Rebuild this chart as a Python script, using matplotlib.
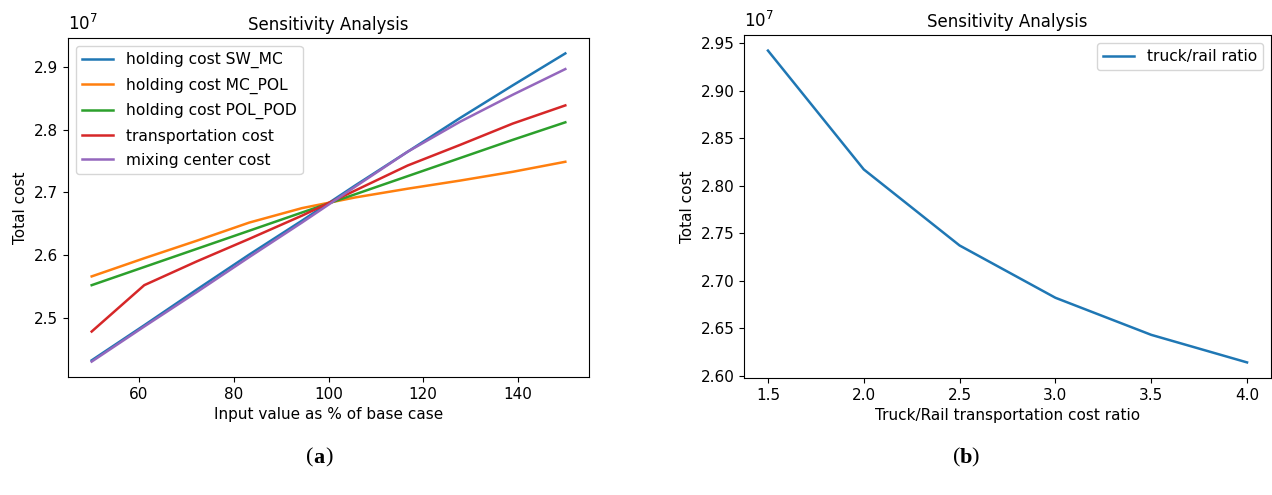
import matplotlib
matplotlib.use("Agg")
import matplotlib.pyplot as plt

# left panel: input value as % of base case
pct = [50, 61.1, 72.2, 83.3, 94.4, 105.6, 116.7, 127.8, 138.9, 150]
sw_mc = [2.432, 2.488, 2.545, 2.601, 2.655, 2.711, 2.765, 2.819, 2.871, 2.922]
mc_pol = [2.566, 2.595, 2.623, 2.652, 2.675, 2.692, 2.706, 2.719, 2.733, 2.749]
pol_pod = [2.552, 2.581, 2.610, 2.639, 2.668, 2.697, 2.726, 2.755, 2.784, 2.812]
transport = [2.478, 2.552, 2.590, 2.626, 2.663, 2.703, 2.743, 2.776, 2.810, 2.839]
mixing = [2.430, 2.486, 2.541, 2.597, 2.652, 2.709, 2.765, 2.813, 2.856, 2.897]
labels_a = ["holding cost SW_MC", "holding cost MC_POL", "holding cost POL_POD",
            "transportation cost", "mixing center cost"]

# right panel: truck/rail cost ratio
ratio = [1.5, 2.0, 2.5, 3.0, 3.5, 4.0]
total_b = [2.942, 2.817, 2.737, 2.682, 2.643, 2.614]

scale = 1e7

plt.rcParams['font.size'] = 11
fig = plt.figure(figsize=(12.72, 4.95), dpi=100)
ax1 = fig.add_axes([68/1272, 1-377/495, (589-68)/1272, (377-38)/495])
ax2 = fig.add_axes([744/1272, 1-378/495, (1271-744)/1272, (378-35)/495])

for ys, lab in zip([sw_mc, mc_pol, pol_pod, transport, mixing], labels_a):
    ax1.plot(pct, [v*scale for v in ys], label=lab, lw=1.8)
ax1.set_xticks([60, 80, 100, 120, 140])
ax1.set_title("Sensitivity Analysis", fontsize=12)
ax1.set_xlabel("Input value as % of base case")
ax1.set_ylabel("Total cost")
ax1.legend(loc="upper left", fontsize=11.2, labelspacing=0.6)

ax2.plot(ratio, [v*scale for v in total_b], label="truck/rail ratio", lw=1.8)
ax2.set_title("Sensitivity Analysis", fontsize=12)
ax2.set_xlabel("Truck/Rail transportation cost ratio")
ax2.set_ylabel("Total cost")
ax2.legend(loc="upper right", fontsize=11.2)

# offset label drawn as plain 10^7, like the original
for ax in (ax1, ax2):
    ax.yaxis.get_offset_text().set_visible(False)
    ax.text(0, 1.012, r"$10^{7}$", transform=ax.transAxes, fontsize=12,
            ha="left", va="bottom")

fig.text(313/1272, 1-458/495, "(", fontsize=16, family="Liberation Serif", ha="right", va="center")
fig.text(313/1272, 1-458/495, "a", fontsize=16, family="Liberation Serif", weight="bold", ha="left", va="center")
fig.text(325/1272, 1-458/495, ")", fontsize=16, family="Liberation Serif", ha="left", va="center")
fig.text(960/1272, 1-458/495, "(", fontsize=16, family="Liberation Serif", ha="right", va="center")
fig.text(960/1272, 1-458/495, "b", fontsize=16, family="Liberation Serif", weight="bold", ha="left", va="center")
fig.text(971/1272, 1-458/495, ")", fontsize=16, family="Liberation Serif", ha="left", va="center")

fig.savefig("out.png", dpi=100)
